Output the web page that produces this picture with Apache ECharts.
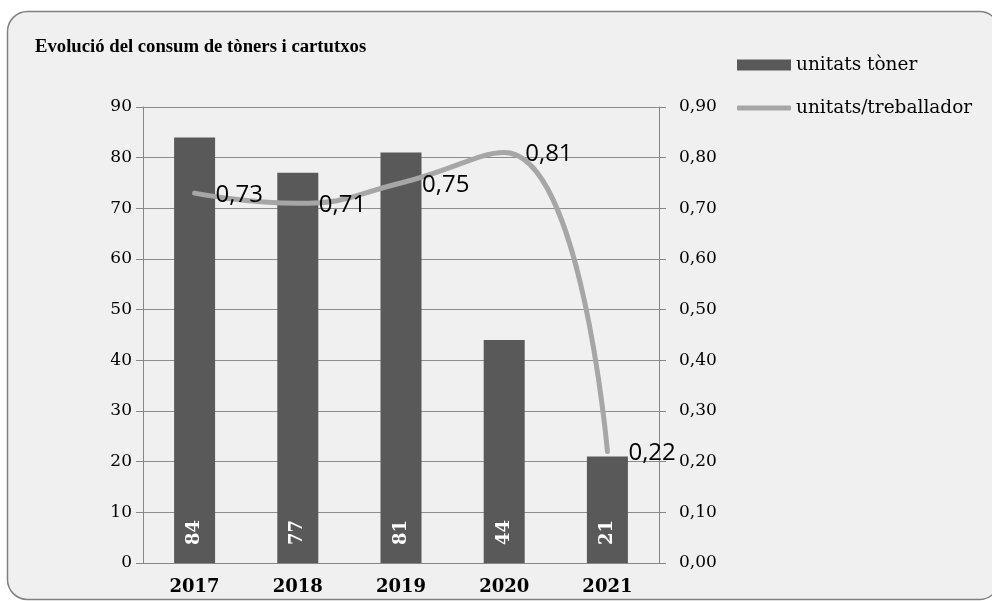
<!DOCTYPE html>
<html>
<head>
<meta charset="utf-8">
<script src="https://cdn.jsdelivr.net/npm/echarts@6/dist/echarts.min.js"></script>
<style>
html,body{margin:0;padding:0;background:#ffffff;}
#chart{width:992px;height:601px;}
</style>
</head>
<body>
<div id="chart"></div>
<script>
const titleText = 'Evolució del consum de tòners i cartutxos';
const years = ['2017', '2018', '2019', '2020', '2021'];
const unitatsToner = [84, 77, 81, 44, 21];
const unitatsTreballador = [0.73, 0.71, 0.75, 0.81, 0.22];
const leftTicks = {min: 0, max: 90, interval: 10};
const rightTicks = {min: 0, max: 0.9, interval: 0.1};

const comma = v => Number(v).toFixed(2).replace('.', ',');
const legendText = {fontFamily: 'DejaVu Serif', fontSize: 18.5, color: '#000', lineHeight: 22};
const chart = echarts.init(document.getElementById('chart'), null, {renderer: 'canvas'});
chart.setOption({
  animation: false,
  backgroundColor: '#ffffff',
  graphic: [{
    type: 'rect', z: -100, silent: true,
    shape: {x: 7.5, y: 11.5, width: 992, height: 588, r: 20},
    style: {fill: '#f0f0f0', stroke: '#808080', lineWidth: 1.5}
  }],
  title: {
    text: titleText, left: 30, top: 33,
    textStyle: {fontFamily: 'Liberation Serif', fontWeight: 'bold', fontSize: 18.7, color: '#000'}
  },
  legend: [{
    orient: 'vertical', left: 737, top: 54, padding: 0,
    itemWidth: 54, itemHeight: 11,
    textStyle: legendText,
    data: [{name: 'unitats tòner', icon: 'rect'}]
  }, {
    orient: 'vertical', left: 737, top: 97, padding: 0,
    itemWidth: 54, itemHeight: 5,
    textStyle: legendText,
    data: [{name: 'unitats/treballador', icon: 'roundRect'}]
  }],
  grid: {left: 143, right: 333, top: 107, bottom: 38},
  xAxis: {
    type: 'category', data: years,
    axisLine: {lineStyle: {color: '#868686', width: 1}},
    axisTick: {length: 7, lineStyle: {color: '#868686'}},
    axisLabel: {margin: 15, fontFamily: 'DejaVu Serif', fontWeight: 'bold', fontSize: 18, color: '#000'}
  },
  yAxis: [{
    type: 'value', min: leftTicks.min, max: leftTicks.max, interval: leftTicks.interval,
    axisLine: {show: true, lineStyle: {color: '#868686', width: 1}},
    axisTick: {show: true, length: 7, lineStyle: {color: '#868686'}},
    splitLine: {lineStyle: {color: '#8c8c8c', width: 1}},
    axisLabel: {margin: 11, fontFamily: 'DejaVu Serif', fontSize: 17, color: '#000'}
  }, {
    type: 'value', min: rightTicks.min, max: rightTicks.max, interval: rightTicks.interval,
    axisLine: {show: true, lineStyle: {color: '#868686', width: 1}},
    axisTick: {show: true, length: 7, lineStyle: {color: '#868686'}},
    splitLine: {show: false},
    axisLabel: {margin: 20, fontFamily: 'DejaVu Serif', fontSize: 17, color: '#000', formatter: comma}
  }],
  series: [{
    name: 'unitats tòner', type: 'bar', data: unitatsToner, barWidth: 41,
    itemStyle: {color: '#595959'},
    label: {
      show: true, position: 'insideBottom', rotate: 90, align: 'left', verticalAlign: 'middle',
      distance: 18, color: '#ffffff', fontFamily: 'DejaVu Serif', fontWeight: 'bold', fontSize: 18
    }
  }, {
    name: 'unitats/treballador', type: 'line', yAxisIndex: 1, data: unitatsTreballador,
    smooth: 0.5, symbol: 'circle', symbolSize: 0.01, showSymbol: true, z: 5,
    lineStyle: {color: '#a6a6a6', width: 5, cap: 'round'},
    itemStyle: {color: '#a6a6a6'},
    label: {
      show: true, position: 'right', distance: 21, offset: [0, 2], color: '#000',
      fontFamily: 'Open Sans', fontSize: 24, formatter: p => comma(p.value)
    }
  }]
});
</script>
</body>
</html>
